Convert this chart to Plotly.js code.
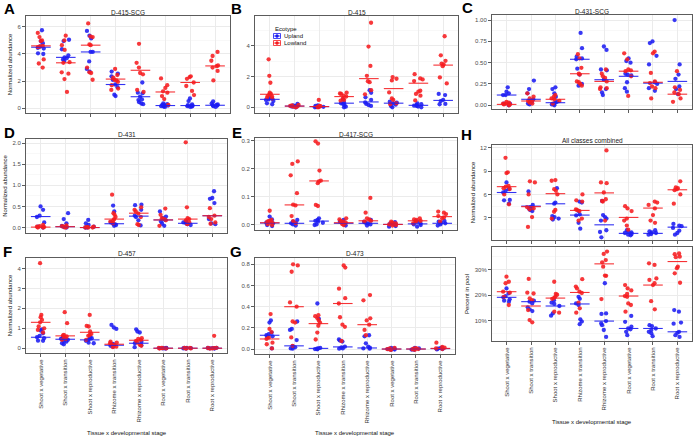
<!DOCTYPE html>
<html><head><meta charset="utf-8">
<script src="https://cdn.plot.ly/plotly-3.0.1.min.js"></script>
<style>html,body{margin:0;padding:0;background:#fff}#chart{width:694px;height:438px}</style>
</head><body><div id="chart"></div>
<script>
const categories = ['Shoot x vegetative','Shoot x transition','Shoot x reproductive','Rhizome x transition','Rhizome x reproductive','Root x vegetative','Root x transition','Root x reproductive'];
const ecotypes = ['Upland','Lowland'];

// Panel A: D-415-SCG
const A_up = [[5.75,4.95,4.8,4.55,4.45,4.4,4.05,4.0],[5.05,4.95,4.35,3.9,3.75,3.7,3.6,3.5],[5.7,5.35,5.15,4.15,4.15,3.45,2.9,2.7],[2.7,2.55,2.35,2.1,1.75,1.55,1.0,0.9],[1.9,1.15,1.1,0.85,0.65,0.6,0.45,0.35,0.3],[0.35,0.3,0.25,0.22,0.2,0.18,0.15,0.12,0.1],[0.72,0.53,0.28,0.22,0.2,0.18,0.15,0.12,0.1],[0.5,0.35,0.28,0.25,0.22,0.2,0.15,0.1]];
const A_low = [[5.55,5.25,5.0,4.95,4.6,4.55,4.5,3.6,3.3,3.0],[5.35,5.0,4.65,4.3,3.4,3.35,2.65,2.55,2.15,1.2],[6.25,5.3,5.25,4.7,4.65,3.0,2.65,2.6,2.1],[2.9,2.45,2.25,2.1,2.05,1.95,1.7,1.45,1.35],[4.75,3.35,3.0,2.6,2.5,1.35,1.2],[2.2,1.7,1.5,1.25,1.15,0.9,0.68,0.25],[2.35,2.3,2.17,1.9,1.64,1.28,0.97],[4.15,3.85,3.5,3.15,3.1,3.0,2.75,2.05]];
const A_upMed = [4.5,3.75,4.15,1.75,0.85,0.2,0.2,0.22];
const A_lowMed = [4.6,3.35,4.65,2.15,2.8,1.2,1.9,3.12];

// Panel B: D-415
const B_up = [[0.63,0.56,0.52,0.48,0.41,0.26,0.2],[0.22,0.13,0.09,0.06,0.04,0.0],[0.12,0.09,0.05,0.03,0.01,0.0],[0.52,0.3,0.26,0.22,0.13,0.04,0.0],[1.12,0.95,0.65,0.48,0.32,0.22,0.15,0.09],[0.37,0.3,0.26,0.17,0.09,0.0],[0.26,0.2,0.15,0.11,0.09,0.05,0.0],[0.87,0.8,0.48,0.41,0.22,0.2]];
const B_low = [[3.13,2.05,1.6,0.95,0.87,0.85,0.75,0.7,0.63,0.58],[0.15,0.12,0.09,0.06,0.04,0.0],[0.48,0.09,0.07,0.05,0.03,0.02,0.0],[0.95,0.9,0.87,0.76,0.7,0.56,0.48,0.43],[5.51,3.96,2.7,2.05,1.7,1.64,1.12,0.85],[1.97,1.86,1.75,0.97,0.58,0.48,0.26,0.2],[2.16,1.88,1.82,1.71,1.08,1.02,0.87,0.76,0.45],[4.63,3.39,3.03,2.85,2.79,2.68,1.95,1.56]];
const B_upMed = [0.52,0.08,0.05,0.27,0.35,0.27,0.13,0.45];
const B_lowMed = [0.85,0.08,0.05,0.7,1.87,1.22,1.57,2.75];

// Panel C: D-431-SCG
const C_up = [[0.21,0.16,0.14,0.12,0.12,0.02,0.02,0.0],[0.29,0.19,0.14,0.07,0.05,0.04,0.02,0.01],[0.21,0.19,0.14,0.1,0.04,0.03,0.02,0.01,0.0],[0.85,0.67,0.57,0.55,0.54,0.43,0.36,0.25,0.23],[0.69,0.65,0.42,0.41,0.3,0.19,0.15,0.12],[0.55,0.52,0.5,0.37,0.36,0.35,0.27,0.2,0.16],[0.75,0.73,0.58,0.48,0.27,0.25,0.2,0.17],[1.0,0.48,0.36,0.31,0.22,0.19,0.13]];
const C_low = [[0.04,0.03,0.02,0.02,0.01,0.01,0.0],[0.14,0.1,0.08,0.06,0.05,0.03,0.02],[0.12,0.1,0.08,0.07,0.05,0.02],[0.6,0.55,0.44,0.37,0.36,0.28,0.27,0.25,0.23],[0.42,0.37,0.34,0.32,0.28,0.21,0.2,0.19],[0.61,0.54,0.42,0.41,0.4,0.34,0.11],[0.63,0.61,0.38,0.28,0.26,0.22,0.2,0.08],[0.4,0.21,0.18,0.15,0.13,0.08,0.04]];
const C_upMed = [0.12,0.07,0.03,0.54,0.3,0.34,0.26,0.28];
const C_lowMed = [0.01,0.05,0.07,0.37,0.28,0.4,0.27,0.13];

// Panel D: D-431
const D_up = [[0.5,0.42,0.28,0.25,0.12,0.02,0.0],[0.34,0.2,0.1,0.04,0.01,0.0],[0.18,0.1,0.06,0.02,0.0,0.0],[0.52,0.38,0.12,0.09,0.08,0.06,0.04],[0.54,0.53,0.42,0.28,0.25,0.17,0.05],[0.38,0.26,0.22,0.18,0.14,0.09,0.04],[0.14,0.12,0.1,0.08,0.06],[0.86,0.7,0.68,0.58,0.2,0.1,0.08]];
const D_low = [[0.06,0.03,0.02,0.01,0.0,0.0],[0.05,0.03,0.02,0.01,0.0],[0.02,0.01,0.0,0.0,0.0],[0.78,0.34,0.3,0.25,0.2,0.17,0.14,0.1],[0.48,0.42,0.38,0.33,0.25,0.08,0.06],[0.45,0.3,0.22,0.2,0.17,0.04],[2.02,0.48,0.22,0.2,0.17,0.12,0.08],[0.46,0.28,0.25,0.2,0.12,0.09]];
const D_upMed = [0.26,0.02,0.0,0.09,0.27,0.18,0.1,0.28];
const D_lowMed = [0.01,0.02,0.0,0.2,0.34,0.18,0.2,0.28];

// Panel E: D-417-SCG
const E_up = [[0.028,0.018,0.01,0.006,0.004,-0.002,-0.006],[0.016,0.01,0.006,0.004,0.0,-0.004],[0.022,0.016,0.013,0.01,0.006,0.0,-0.002],[0.016,0.01,0.006,0.0,-0.004],[0.016,0.01,0.006,0.004,0.0,-0.004],[0.008,0.004,0.002,0.0,-0.006,-0.008],[0.013,0.01,0.004,0.0,-0.002,-0.008],[0.013,0.01,0.006,0.004,0.0,-0.004]];
const E_low = [[0.049,0.016,0.013,0.01,0.006,0.001,-0.002],[0.226,0.217,0.176,0.112,0.071,0.068,0.03,0.012,0.004],[0.298,0.29,0.193,0.157,0.154,0.148,0.07,0.066],[0.022,0.018,0.013,0.01,0.006,0.001,-0.002],[0.095,0.042,0.022,0.018,0.013,0.01],[0.01,0.006,0.004,0.0,-0.002,-0.004],[0.022,0.018,0.016,0.013,0.01,0.004],[0.046,0.042,0.037,0.03,0.025,0.022,0.01]];
const E_upMed = [0.005,0.004,0.012,0.004,0.004,0.0,0.002,0.004];
const E_lowMed = [0.006,0.07,0.156,0.006,0.013,0.0,0.013,0.028];

// Panel F: D-457
const F_up = [[0.95,0.89,0.75,0.62,0.55,0.5,0.38,0.37],[0.55,0.47,0.42,0.37,0.33,0.25,0.2],[0.55,0.5,0.47,0.42,0.37,0.28,0.25],[1.17,1.04,0.97,0.22,0.17,0.12,0.08],[0.95,0.84,0.79,0.33,0.25,0.15,0.05],[0.02,0.01,0.0,0.0,-0.01,-0.02],[0.02,0.01,0.0,0.0,-0.01,-0.02],[0.02,0.01,0.0,0.0,-0.01,-0.02]];
const F_low = [[4.27,1.67,1.56,1.42,1.3,1.09,1.0,0.92,0.79],[1.81,1.26,0.67,0.64,0.59,0.55,0.47,0.42],[1.67,1.12,1.09,0.84,0.72,0.67,0.62,0.42],[0.33,0.28,0.25,0.2,0.15,0.08,0.05],[0.5,0.47,0.42,0.37,0.28,0.17,0.12],[0.02,0.01,0.0,-0.01,-0.02],[0.02,0.01,0.0,-0.01,-0.02],[0.62,0.02,0.01,0.0,-0.01,-0.02]];
const F_upMed = [0.55,0.45,0.42,0.15,0.25,0,0,0];
const F_lowMed = [1.3,0.62,0.8,0.2,0.4,0,0,0];

// Panel G: D-473
const G_up = [[0.27,0.25,0.155,0.14,0.13,0.12,0.11,0.006],[0.26,0.19,0.18,0.085,0.028,0.016,0.006,0.003],[0.43,0.285,0.01,0.006,0.003,0.0,-0.003],[0.09,0.08,0.07,0.022,0.016,0.006,0.003],[0.13,0.12,0.054,0.022,0.013,0.006,0.003],[0.01,0.005,0.0,-0.005,-0.008],[0.01,0.005,0.0,-0.005,-0.008],[0.012,0.008,0.004,0.0,-0.004]];
const G_low = [[0.33,0.19,0.16,0.11,0.095,0.06,0.045,0.006],[0.8,0.79,0.73,0.44,0.4,0.26,0.25,0.11,0.03],[0.32,0.31,0.29,0.27,0.25,0.22,0.155,0.09],[0.79,0.77,0.57,0.48,0.43,0.3,0.23,0.21,0.076],[0.51,0.46,0.29,0.27,0.23,0.18,0.13],[0.01,0.005,0.0,-0.005,-0.008],[0.008,0.004,0.0,-0.004,-0.008],[0.06,0.02,0.012,0.006,0.0]];
const G_upMed = [0.13,0.03,0.006,0.02,0.01,0,0,0.004];
const G_lowMed = [0.095,0.4,0.24,0.43,0.23,0,0,0.006];

// Panel H (top): All classes combined, normalized abundance
const H1_up = [[7.55,6.68,6.46,6.25,5.3,5.25,4.82],[6.38,4.65,4.38,4.3,4.17,4.0,3.87],[6.8,4.95,4.82,3.22,3.09,2.9,2.78],[5.08,4.95,3.87,3.43,3.3,2.35,1.6],[5.16,3.35,3.09,2.9,2.65,1.4,1.18,0.49],[1.4,1.27,1.14,1.05,0.92,0.84,0.75],[1.4,1.27,1.14,1.05,0.92,0.84],[2.22,2.0,1.92,1.7,1.35,1.05,0.84]];
const H1_low = [[10.7,8.84,8.75,7.1,7.0,6.8,6.7,6.0,4.73],[7.68,7.55,6.0,4.38,4.2,4.08,3.09,1.83],[7.85,7.76,6.68,6.46,6.0,4.0,3.78,2.9],[6.0,5.25,5.08,4.08,4.0,3.87,2.9,2.65],[11.65,7.55,7.45,6.25,5.38,5.16,5.08,2.65],[4.5,4.2,3.87,2.9,2.65,2.0,1.48],[5.08,4.95,4.65,4.2,3.35,2.65,2.35],[7.68,6.9,6.8,6.68,6.55,6.0,4.82]];
const H1_upMed = [6.25,4.5,4.8,3.35,2.1,1.0,1.0,1.8];
const H1_lowMed = [7.0,4.43,6.1,3.95,6.2,3.05,4.25,6.6];

// Panel H (bottom): percent in pool
const H2_up = [[22.6,20.7,19.6,19.1,18.3,17.8,17.4],[17.8,17.4,16.7,15.2,14.4,13.7],[18.0,17.0,16.5,15.7,12.8,11.9],[19.3,18.5,16.7,16.1,10.5,9.6,8.6],[24.6,12.8,12.6,9.8,8.9,8.2,6.3,3.6],[11.8,9.5,7.6,6.9,6.6,5.6,4.3],[8.2,7.8,6.9,6.3,5.6,5.0,3.9],[14.1,13.5,9.2,8.8,5.6,5.2,4.3,3.6]];
const H2_low = [[27.2,25.2,24.6,21.3,20.9,19.3,16.1],[26.3,20.9,20.6,18.7,18.0,14.1,10.2,9.3],[25.2,20.4,20.1,19.3,18.9,18.5,13.5,13.1],[26.2,23.3,22.6,21.3,20.8,17.0,14.8,13.1],[37.0,36.1,33.7,32.8,31.1,27.6,27.5,18.4],[23.9,22.6,21.8,20.4,19.6,19.3,16.7,16.1,13.5],[32.4,31.8,26.5,25.9,24.6,23.9,17.6,14.4],[36.3,36.0,35.0,34.8,31.1,30.5,28.5,24.8]];
const H2_upMed = [19.1,17.4,15.7,16.5,9.8,6.9,6.9,5.6];
const H2_lowMed = [21.3,15.7,18.8,21.0,32.2,19.6,23.9,33.1];

const W = 694, H = 438;
const FONT = '"Liberation Sans", Arial, Helvetica, sans-serif';
const RED = 'rgb(246,28,32)', BLUE = 'rgb(28,28,242)';

const panels = [
  {title:'D-415-SCG', box:[26,230,16,113], range:[-0.35,6.8], dtick:2, minor:1, fmt:'d', ytitle:'Normalized abundance', xlab:false, up:A_up, low:A_low, upMed:A_upMed, lowMed:A_lowMed, ty:12.5},
  {title:'D-415', box:[255,458,16,113], range:[-0.37,5.95], dtick:2, minor:1, fmt:'d', ytitle:'', xlab:false, up:B_up, low:B_low, upMed:B_upMed, lowMed:B_lowMed, ty:12.5},
  {title:'D-431-SCG', box:[492,692,15,109], range:[-0.044,1.06], dtick:0.25, minor:0.125, fmt:'.2f', ytitle:'', xlab:false, up:C_up, low:C_low, upMed:C_upMed, lowMed:C_lowMed, ty:11},
  {title:'D-431', box:[26,227,139,233], range:[-0.13,2.1], dtick:0.5, minor:0.25, fmt:'.1f', ytitle:'Normalized abundance', xlab:false, up:D_up, low:D_low, upMed:D_upMed, lowMed:D_lowMed, ty:134},
  {title:'D-417-SCG', box:[255,457,138,230], range:[-0.02,0.31], dtick:0.1, minor:0.05, fmt:'.1f', ytitle:'', xlab:false, up:E_up, low:E_low, upMed:E_upMed, lowMed:E_lowMed, ty:134},
  {title:'D-457', box:[26,227,258,353], range:[-0.24,4.53], dtick:1, minor:0.5, fmt:'d', ytitle:'Normalized abundance', xlab:true, up:F_up, low:F_low, upMed:F_upMed, lowMed:F_lowMed, ty:253.5},
  {title:'D-473', box:[255,455,258,354], range:[-0.047,0.86], dtick:0.2, minor:0.1, fmt:'.1f', ytitle:'', xlab:true, up:G_up, low:G_low, upMed:G_upMed, lowMed:G_lowMed, ty:253.5},
  {title:'All classes combined', box:[492,692,145,240], range:[0.15,12.35], dtick:3, minor:1.5, fmt:'d', ytitle:'Normalized abundance', xlab:false, up:H1_up, low:H1_low, upMed:H1_upMed, lowMed:H1_lowMed, ty:140.5},
  {title:'', box:[492,692,247,341], range:[2.0,38.8], dtick:10, minor:5, fmt:'d', suffix:'%', ytitle:'Percent in pool', xlab:true, up:H2_up, low:H2_low, upMed:H2_upMed, lowMed:H2_lowMed, ty:0}
];

function flat(groups){
  const xs=[], ys=[];
  groups.forEach((g,i)=>g.forEach(v=>{xs.push(categories[i]); ys.push(v);}));
  return {xs, ys};
}

const data = [];
const layout = {
  width: W, height: H, margin:{l:0,r:0,t:0,b:0},
  paper_bgcolor:'#fff', plot_bgcolor:'#fff',
  font:{family:FONT, size:6, color:'#222'},
  showlegend:false, boxmode:'overlay',
  annotations:[], shapes:[]
};

panels.forEach((p,k)=>{
  const s = k===0 ? '' : String(k+1);
  const xa = 'x'+s, ya = 'y'+s;
  [[p.up, BLUE, ecotypes[0]],[p.low, RED, ecotypes[1]]].forEach(([groups,col,name])=>{
    const f = flat(groups);
    data.push({type:'box', x:f.xs, y:f.ys, xaxis:xa, yaxis:ya, name:name,
      boxpoints:'all', jitter:0.75, pointpos:0, whiskerwidth:0,
      line:{width:0, color:'rgba(0,0,0,0)'}, fillcolor:'rgba(0,0,0,0)',
      marker:{color:col, size:4.3, opacity:0.88}, hoverinfo:'skip', showlegend:false});
  });
  [[p.upMed, BLUE],[p.lowMed, RED]].forEach(([med,col])=>{
    data.push({type:'scatter', mode:'markers', x:categories, y:med, xaxis:xa, yaxis:ya,
      marker:{symbol:'line-ew', size:14, color:col, line:{width:1.1, color:col}}, opacity:0.9,
      hoverinfo:'skip', showlegend:false});
  });
  const [x0,x1,y0,y1] = p.box;
  layout['xaxis'+s] = {domain:[x0/W, x1/W], anchor:ya, type:'category', categoryorder:'array', categoryarray:categories,
    range:[-0.6,7.6], showgrid:true, gridcolor:'#ebebeb', gridwidth:1, zeroline:false,
    showline:true, mirror:true, linecolor:'#5c5c5c', linewidth:1,
    ticks:'outside', ticklen:3, tickcolor:'#5c5c5c', tickwidth:1,
    showticklabels:p.xlab, tickangle:-90, tickfont:{size:6, color:'#333', family:FONT}, fixedrange:true};
  layout['yaxis'+s] = {domain:[1-y1/H, 1-y0/H], anchor:xa, range:p.range, tick0:0, dtick:p.dtick,
    tickformat:p.fmt, ticksuffix:p.suffix||'', showgrid:true, gridcolor:'#ebebeb', gridwidth:1, zeroline:false,
    minor:{tick0:0, dtick:p.minor, showgrid:true, gridcolor:'#f3f3f3', gridwidth:0.6},
    showline:true, mirror:true, linecolor:'#5c5c5c', linewidth:1,
    ticks:'outside', ticklen:3, tickcolor:'#5c5c5c', tickwidth:1,
    tickfont:{size:6, color:'#4d4d4d', family:FONT},
    title:{text:p.ytitle, font:{size:6, color:'#111', family:FONT}, standoff:4}, fixedrange:true};
  if (p.title) layout.annotations.push({xref:'paper', yref:'paper', x:(x0+x1)/2/W, y:1-p.ty/H,
    text:p.title, showarrow:false, xanchor:'center', yanchor:'middle', font:{size:6.5, color:'#222', family:FONT}});
});

// panel letters
[['A',9,8.5],['B',236,8],['C',467,7],['D',9,133],['E',237,133],['F',7,251],['G',236,251],['H',466,134]].forEach(([t,x,y])=>{
  layout.annotations.push({xref:'paper', yref:'paper', x:x/W, y:1-y/H, text:'<b>'+t+'</b>', showarrow:false,
    xanchor:'center', yanchor:'middle', font:{size:15, color:'#000', family:FONT}});
});
// x axis titles
[[126.5,433],[355,433],[592,422]].forEach(([x,y])=>{
  layout.annotations.push({xref:'paper', yref:'paper', x:x/W, y:1-y/H, text:'Tissue x developmental stage', showarrow:false,
    xanchor:'center', yanchor:'middle', font:{size:6, color:'#111', family:FONT}});
});
// legend (panel B)
layout.annotations.push({xref:'paper', yref:'paper', x:273/W, y:1-29/H, text:'Ecotype', showarrow:false, xanchor:'left', yanchor:'middle', font:{size:6, color:'#111', family:FONT}});
[[ecotypes[0], BLUE, 36],[ecotypes[1], RED, 43]].forEach(([t,col,y])=>{
  layout.annotations.push({xref:'paper', yref:'paper', x:282/W, y:1-y/H, text:t, showarrow:false, xanchor:'left', yanchor:'middle', font:{size:6, color:'#111', family:FONT}});
  layout.shapes.push({type:'rect', xref:'paper', yref:'paper', x0:273.5/W, x1:280.5/W, y0:1-(y-2.5)/H, y1:1-(y+2.5)/H, line:{color:col, width:0.8}, fillcolor:'rgba(0,0,0,0)'});
  layout.shapes.push({type:'line', xref:'paper', yref:'paper', x0:273.5/W, x1:280.5/W, y0:1-y/H, y1:1-y/H, line:{color:col, width:0.8}});
  layout.shapes.push({type:'circle', xref:'paper', yref:'paper', x0:275.5/W, x1:278.5/W, y0:1-(y-1.5)/H, y1:1-(y+1.5)/H, line:{color:col, width:0.5}, fillcolor:col});
});

Plotly.newPlot('chart', data, layout, {staticPlot:true, displayModeBar:false});
</script>
</body></html>
